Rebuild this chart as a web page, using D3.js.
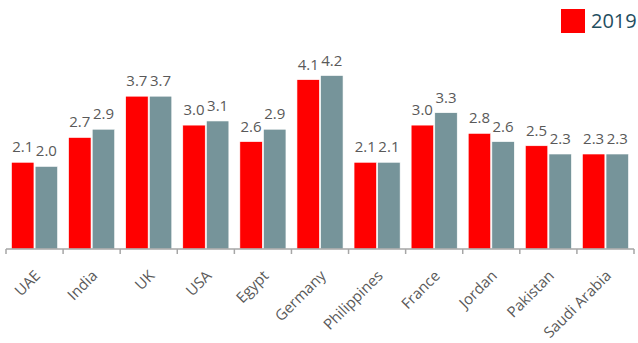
<!DOCTYPE html>
<html>
<head>
<meta charset="utf-8">
<script src="https://cdn.jsdelivr.net/npm/d3@7"></script>
<style>
  body { margin: 0; background: #fff; }
  text { font-family: "Open Sans", sans-serif; }
</style>
</head>
<body>
<svg width="638" height="343"></svg>
<script>
var countries = ["UAE", "India", "UK", "USA", "Egypt", "Germany", "Philippines",
                 "France", "Jordan", "Pakistan", "Saudi Arabia"];
var series = ["2019", "2020"];
var values2019 = [2.1, 2.7, 3.7, 3.0, 2.6, 4.1, 2.1, 3.0, 2.8, 2.5, 2.3];
var values2020 = [2.0, 2.9, 3.7, 3.1, 2.9, 4.2, 2.1, 3.3, 2.6, 2.3, 2.3];
var colors = ["#ff0000", "#76949a"];

var svg = d3.select("svg"),
    width = +svg.attr("width"),
    height = +svg.attr("height");

var x = d3.scaleBand()
    .domain(countries)
    .range([6, 634]);

var x1 = d3.scaleBand()
    .domain(series)
    .range([5.5, x.bandwidth() - 5.5])
    .paddingInner(0.05);

var y = d3.scaleLinear()
    .domain([0, 4.5])
    .range([249, 249 - 4.5 * 41.3]);

var rows = countries.map(function(c, i) {
  return {country: c, vals: [values2019[i], values2020[i]]};
});

var groups = svg.append("g").selectAll("g")
  .data(rows)
  .enter().append("g")
    .attr("transform", function(d) { return "translate(" + x(d.country) + ",0)"; });

groups.selectAll("rect")
  .data(function(d) { return d.vals.map(function(v, j) { return {s: series[j], v: v, j: j}; }); })
  .enter().append("rect")
    .attr("x", function(d) { return x1(d.s); })
    .attr("y", function(d) { return y(d.v); })
    .attr("width", x1.bandwidth())
    .attr("height", function(d) { return y(0) - y(d.v); })
    .attr("fill", function(d) { return colors[d.j]; })
    .attr("stroke", "#fff")
    .attr("stroke-width", 0.6);

groups.selectAll("text.val")
  .data(function(d) { return d.vals.map(function(v, j) { return {s: series[j], v: v}; }); })
  .enter().append("text")
    .attr("class", "val")
    .attr("x", function(d) { return x1(d.s) + x1.bandwidth() / 2; })
    .attr("y", function(d) { return y(d.v) - 10; })
    .attr("text-anchor", "middle")
    .attr("fill", "#595959")
    .style("font-size", "15px")
    .text(function(d) { return d.v.toFixed(1); });

// axis with ticks at category boundaries
var axis = svg.append("g")
    .attr("transform", "translate(0,249)");

axis.append("line")
    .attr("x1", x.range()[0])
    .attr("x2", x.range()[1])
    .attr("stroke", "#a6a6a6")
    .attr("stroke-width", 1.5);

axis.selectAll("line.tick")
  .data(countries.map(function(c) { return x(c); }).concat([x.range()[1]]))
  .enter().append("line")
    .attr("class", "tick")
    .attr("x1", function(d) { return d; })
    .attr("x2", function(d) { return d; })
    .attr("y1", 0)
    .attr("y2", 5)
    .attr("stroke", "#a6a6a6")
    .attr("stroke-width", 1.5);

axis.selectAll("text")
  .data(countries)
  .enter().append("text")
    .attr("transform", function(d) {
      return "translate(" + (x(d) + x.bandwidth() / 2 + 3) + ",24) rotate(-45)";
    })
    .attr("text-anchor", "end")
    .attr("dy", "0.35em")
    .attr("fill", "#595959")
    .style("font-size", "15px")
    .text(function(d) { return d; });

// legend (only the first entry fits on the visible area)
var legend = svg.append("g").selectAll("g")
  .data(series.slice(0, 1))
  .enter().append("g")
    .attr("transform", function(d, i) { return "translate(" + (561 + i * 90) + ",9)"; });

legend.append("rect")
    .attr("width", 24)
    .attr("height", 24)
    .attr("fill", function(d, i) { return colors[i]; });

legend.append("text")
    .attr("x", 30)
    .attr("y", 12)
    .attr("dy", "0.35em")
    .attr("fill", "#1f4e5f")
    .style("font-size", "20px")
    .text(function(d) { return d; });
</script>
</body>
</html>
